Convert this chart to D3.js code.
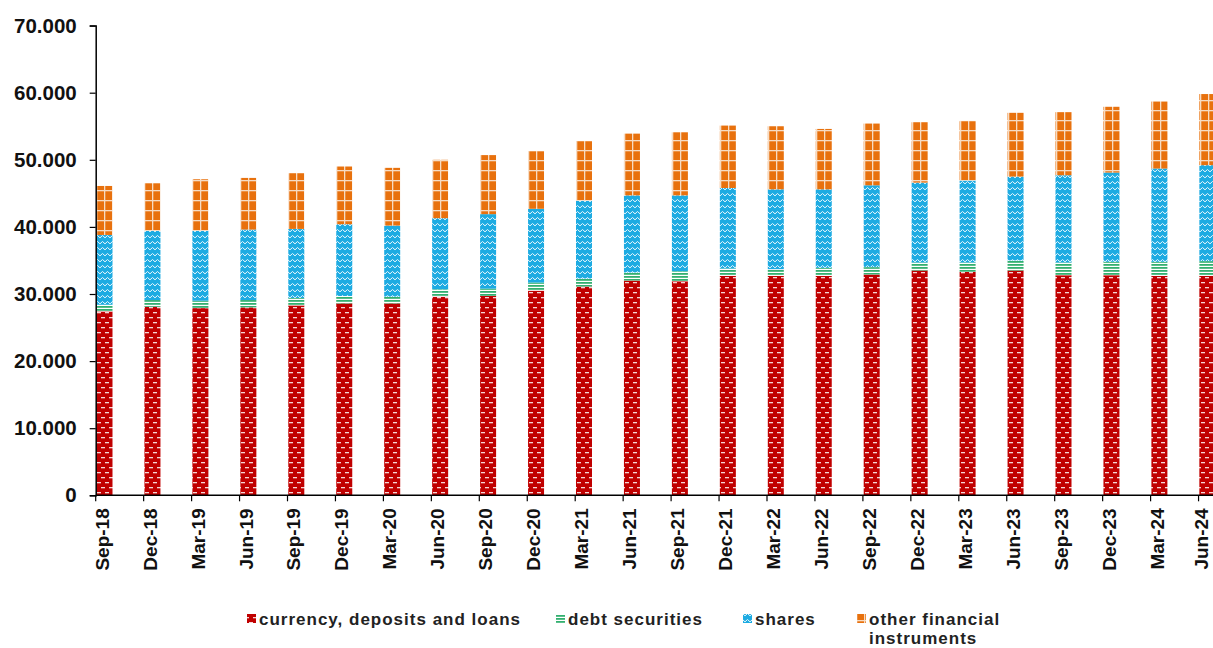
<!DOCTYPE html>
<html><head><meta charset="utf-8">
<script src="https://cdn.jsdelivr.net/npm/d3@7/dist/d3.min.js"></script>
<style>
html,body{margin:0;padding:0;background:#fff;}
svg{display:block;font-family:"Liberation Sans",Arial,sans-serif;}
</style></head>
<body><svg id="c" width="1213" height="648"></svg>
<script>
const categories = ["Sep-18","Dec-18","Mar-19","Jun-19","Sep-19","Dec-19","Mar-20","Jun-20","Sep-20","Dec-20","Mar-21","Jun-21","Sep-21","Dec-21","Mar-22","Jun-22","Sep-22","Dec-22","Mar-23","Jun-23","Sep-23","Dec-23","Mar-24","Jun-24"];
const currency = [27400,28100,27900,28000,28300,28600,28600,29600,29700,30500,31100,32000,31900,32700,32700,32700,32900,33500,33300,33500,32800,32800,32700,32700];
const debt     = [1000,1000,1100,1100,1100,1100,1000,1100,1100,1200,1200,1200,1500,1100,1000,1200,1100,1200,1400,1500,1900,2000,2100,2200];
const shares   = [10400,10300,10400,10500,10300,10700,10600,10600,11100,11000,11600,11500,11300,12000,11900,11700,12200,11900,12200,12500,13000,13300,13900,14300];
const other    = [7300,7100,7700,7700,8300,8600,8600,8700,8800,8600,8900,9200,9400,9300,9400,9000,9200,9000,8900,9500,9400,9800,10000,10600];
const yTicks = [0,10000,20000,30000,40000,50000,60000,70000];
const seriesNames = ["currency, deposits and loans","debt securities","shares","other financial instruments"];

const svg = d3.select("#c");
const defs = svg.append("defs");

// patterns
const pRed = defs.append("pattern").attr("id","pRed").attr("patternUnits","userSpaceOnUse").attr("width",8).attr("height",10);
pRed.append("rect").attr("width",8).attr("height",10).attr("fill","#C00000");
[[1,2],[5,7],[-3,7]].forEach(([x,y])=>pRed.append("rect").attr("x",x).attr("y",y).attr("width",4).attr("height",1.3).attr("fill","#f5d6d6"));

const pGreen = defs.append("pattern").attr("id","pGreen").attr("patternUnits","userSpaceOnUse").attr("width",4).attr("height",3);
pGreen.append("rect").attr("width",4).attr("height",3).attr("fill","#ffffff");
pGreen.append("rect").attr("width",4).attr("height",1.8).attr("fill","#33b070");

const pBlue = defs.append("pattern").attr("id","pBlue").attr("patternUnits","userSpaceOnUse").attr("width",5).attr("height",6);
pBlue.append("rect").attr("width",5).attr("height",6).attr("fill","#1DABE2");
pBlue.append("path").attr("d","M-0.5,4.3 L2.5,1.5 L5.5,4.3").attr("fill","none").attr("stroke","#e8f7fd").attr("stroke-width",1);

const pOrange = defs.append("pattern").attr("id","pOrange").attr("patternUnits","userSpaceOnUse").attr("width",8).attr("height",10);
pOrange.append("rect").attr("width",8).attr("height",10).attr("fill","#E8710D");
pOrange.append("rect").attr("x",0).attr("y",0).attr("width",1.3).attr("height",10).attr("fill","#f6dcc4");
pOrange.append("rect").attr("x",0).attr("y",0).attr("width",8).attr("height",1.3).attr("fill","#f6dcc4");

const fills = ["url(#pRed)","url(#pGreen)","url(#pBlue)","url(#pOrange)"];

const x0 = 95.7, step = 47.95;
const x = d3.scaleBand().domain(categories).range([x0, x0 + step*categories.length]).padding(0);
const y = d3.scaleLinear().domain([0,70000]).range([495.3,25.6]);
const barW = 16;

const rows = categories.map((c,i)=>({cat:c, a:currency[i], b:debt[i], c2:shares[i], d:other[i]}));
const stack = d3.stack().keys(["a","b","c2","d"])(rows);

const g = svg.append("g");
stack.forEach((layer,li)=>{
  g.append("g").attr("fill",fills[li]).selectAll("rect").data(layer).join("rect")
    .attr("x",d=>x(d.data.cat)+0.8)
    .attr("width",barW)
    .attr("y",d=>y(d[1]))
    .attr("height",d=>y(d[0])-y(d[1]));
});

// y axis
const yAxis = d3.axisLeft(y).tickValues(yTicks).tickSize(6).tickPadding(13)
  .tickFormat(d=>d===0?"0":d3.format(",")(d).replace(/,/g,"."));
const ya = svg.append("g").attr("transform",`translate(${x0},0)`).call(yAxis);
ya.select(".domain").attr("stroke","#000").attr("stroke-width",1.5);
ya.selectAll(".tick line").attr("stroke","#000").attr("stroke-width",1.2);
ya.selectAll("text").attr("font-size","20.5px").attr("font-weight","bold").attr("fill","#111");

// x axis
const xAxis = d3.axisBottom(x).tickSize(6).tickFormat(d=>d);
const xa = svg.append("g").attr("transform",`translate(0,${y(0)})`).call(xAxis);
xa.select(".domain").attr("stroke","#000").attr("stroke-width",1.5).attr("d",`M${x0},0H1213`);
xa.selectAll(".tick line").attr("stroke","#000").attr("stroke-width",1.2).attr("x1",-step/2).attr("x2",-step/2);
const lastIdx = categories.length - 1;
xa.selectAll(".tick text")
  .attr("font-size","19px").attr("font-weight","bold").attr("fill","#111")
  .attr("text-anchor","end")
  .attr("transform",(d,i)=>`translate(${-step/2+(i===lastIdx?3:6.5)},13) rotate(-90)`)
  .attr("x",0).attr("y",0).attr("dy","0.34em");

// legend
const legend = svg.append("g").attr("font-size","17px").attr("font-weight","bold").attr("fill","#222");
const items = [
  {x:247, fill:fills[0], lines:[seriesNames[0]]},
  {x:556, fill:fills[1], lines:[seriesNames[1]]},
  {x:743, fill:fills[2], lines:[seriesNames[2]]},
  {x:857, fill:fills[3], lines:["other financial","instruments"]}
];
items.forEach(it=>{
  legend.append("rect").attr("x",it.x).attr("y",614).attr("width",9).attr("height",9).attr("fill",it.fill);
  it.lines.forEach((t,k)=>{
    legend.append("text").attr("x",it.x+12).attr("y",625+k*19).attr("letter-spacing","1px").text(t);
  });
});
</script></body></html>
